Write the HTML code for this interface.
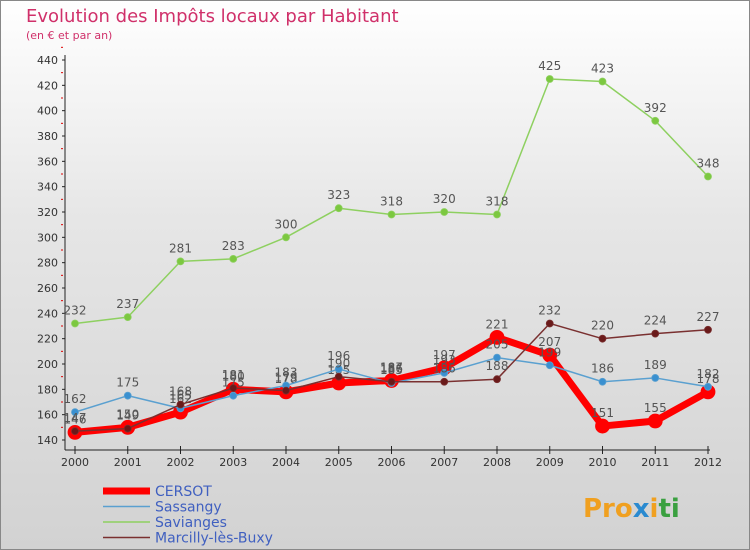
<!DOCTYPE html>
<html><head><meta charset="utf-8"><style>
body{margin:0}
#w{width:750px;height:550px;position:relative;overflow:hidden;font-family:"DejaVu Sans","Liberation Sans",sans-serif;background:linear-gradient(#fff,#e6e6e6 40%,#d2d2d2);}
</style></head><body>
<div id="w">
<svg id="s" width="750" height="550" style="position:absolute;left:0;top:0">
<rect x="0.5" y="0.5" width="749" height="549" fill="none" stroke="#888"/>
<text x="26" y="22" font-size="18" fill="#d0306a">Evolution des Impôts locaux par Habitant</text>
<text x="26" y="39" font-size="11" fill="#d0306a">(en € et par an)</text>
<g id="ax"></g><g id="ser"></g><g id="leg"></g>
<text x="583" y="517" font-size="26" font-weight="bold" fill="#f0a020">Pro<tspan fill="#2a8ad0">x</tspan><tspan fill="#f0a020">i</tspan><tspan fill="#3aa040">ti</tspan></text>
</svg>
</div>
<script>
const years=[2000,2001,2002,2003,2004,2005,2006,2007,2008,2009,2010,2011,2012];
const yTicks=[140,160,180,200,220,240,260,280,300,320,340,360,380,400,420,440];
const cersot=[146,150,162,180,178,185,187,197,221,207,151,155,178];
const sassangy=[162,175,165,175,183,196,185,193,205,199,186,189,182];
const savianges=[232,237,281,283,300,323,318,320,318,425,423,392,348];
const marcilly=[147,149,168,181,179,190,186,186,188,232,220,224,227];
const NS="http://www.w3.org/2000/svg";
function X(i){return 75+i*(708-75)/12;}
function Y(v){return 440-(v-140)*380/300;}
function mk(p,t,a){const e=document.createElementNS(NS,t);for(const k in a)e.setAttribute(k,a[k]);p.appendChild(e);return e;}
const ax=document.getElementById('ax');
let l=mk(ax,'line',{x1:65,y1:55,x2:65,y2:450,stroke:'#222'});

l=mk(ax,'line',{x1:65,y1:450,x2:710,y2:450,stroke:'#222'});

yTicks.forEach(v=>{
 const t=mk(ax,'text',{x:58,y:Y(v)+4,'font-size':11,fill:'#333','text-anchor':'end'});t.textContent=v;
 
 mk(ax,'line',{x1:62,y1:Y(v),x2:65,y2:Y(v),stroke:'#222'});
 mk(ax,'line',{x1:61,y1:Y(v+10),x2:63,y2:Y(v+10),stroke:'#d00'});
});
years.forEach((y,i)=>{
 mk(ax,'line',{x1:X(i),y1:446,x2:X(i),y2:454,stroke:'#222'});
 const t=mk(ax,'text',{x:X(i),y:466,'font-size':11,fill:'#333','text-anchor':'middle'});t.textContent=y;
 
});
const ser=document.getElementById('ser');
function draw(d,color,w,r,name,dot){
 const g=mk(ser,'g',{});
 
 mk(g,'polyline',{points:d.map((v,i)=>X(i)+','+Y(v)).join(' '),fill:'none',stroke:color,'stroke-width':w,'stroke-linejoin':'round'});
 d.forEach((v,i)=>{
  const c=mk(g,'circle',{cx:X(i),cy:Y(v),r:r,fill:dot,stroke:color,'stroke-width':0.8});
  
  const t=mk(g,'text',{x:X(i),y:Y(v)-9,'font-size':12,fill:'#555','text-anchor':'middle'});t.textContent=v;
 });
}
draw(savianges,'#8ed060',1.5,3.5,'series-savianges','#7cc840');
draw(cersot,'#f00',7,7,'series-cersot','#f00');
draw(sassangy,'#5aa0d0',1.5,3.5,'series-sassangy','#3a90d0');
draw(marcilly,'#7a3030',1.5,3.5,'series-marcilly','#6a1a1a');
const leg=document.getElementById('leg');
[['CERSOT','#f00',7],['Sassangy','#5aa0d0',1.5],['Savianges','#8ed060',1.5],['Marcilly-lès-Buxy','#7a3030',1.5]].forEach((e,i)=>{
 const y=491+i*15.5;
 const g=mk(leg,'g',{});
 
 mk(g,'line',{x1:103,y1:y,x2:150,y2:y,stroke:e[1],'stroke-width':e[2]});
 const t=mk(g,'text',{x:155,y:y+5,'font-size':14,fill:'#4060c0'});t.textContent=e[0];
});
</script>
</body></html>
